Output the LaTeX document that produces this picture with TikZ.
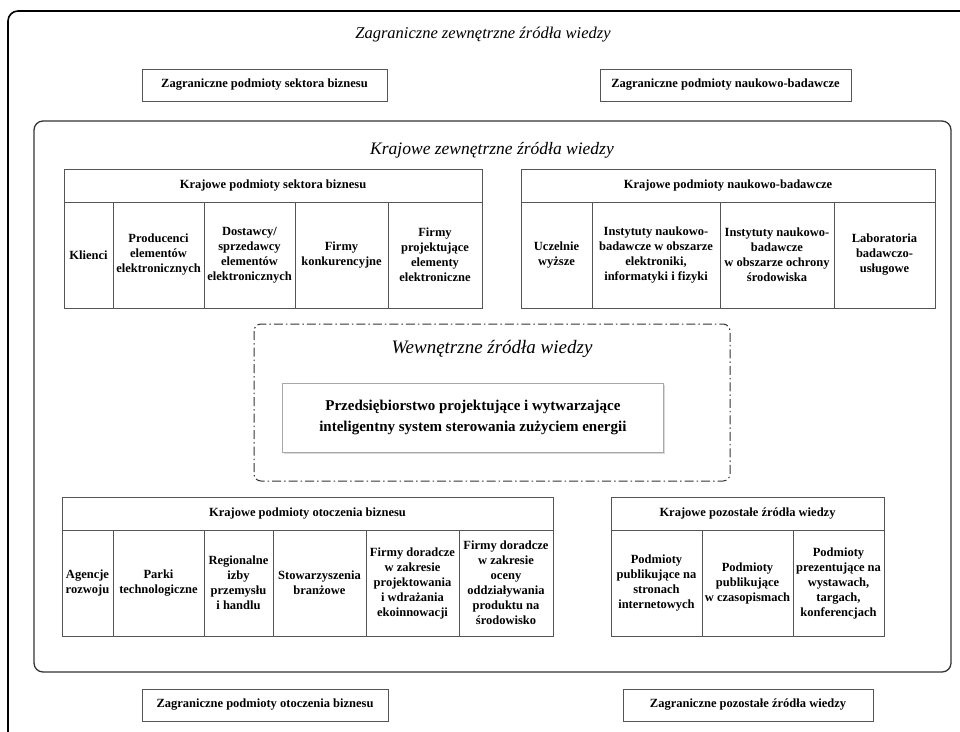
\documentclass[tikz,border=0pt]{standalone}
\usepackage{fontspec}
\setmainfont{Liberation Serif}
\usetikzlibrary{positioning,shadows}
\definecolor{framegray}{HTML}{333333}
\definecolor{cellgray}{HTML}{555555}
\definecolor{softgray}{HTML}{A8A8A8}

\begin{document}
\begin{tikzpicture}[x=1pt, y=-1pt,
  cell/.style={rectangle, draw=cellgray, line width=0.8pt, outer sep=0pt, inner sep=1pt, align=center, minimum height=106, font=\bfseries\fontsize{12.5}{15}\selectfont},
  headcell/.style={cell, minimum height=33},
  srcbox/.style={rectangle, draw=cellgray, line width=0.8pt, outer sep=0pt, anchor=north west, minimum height=32, align=center, font=\bfseries\fontsize{12.5}{15}\selectfont},
  titletext/.style={font=\itshape\fontsize{17.5}{20}\selectfont},
  outerframe/.style={draw=black, line width=1.6pt, rounded corners=10pt},
  innerframe/.style={draw=framegray, line width=1.3pt, rounded corners=9pt},
  dashframe/.style={draw=framegray, line width=1pt, rounded corners=7pt, dash pattern=on 9pt off 3pt on 1.5pt off 3pt},
  firmbox/.style={rectangle, draw=softgray, fill=white, line width=0.8pt, anchor=north west, drop shadow={shadow xshift=1.5pt, shadow yshift=-1.5pt, opacity=.3, fill=gray}, align=center, minimum width=381, minimum height=69, font=\bfseries\fontsize{15}{21}\selectfont}
]
\clip (0,0) rectangle (960,731);

% frames
\draw[outerframe] (8,11) rectangle (985,760);
\draw[innerframe] (34,121) rectangle (951,672);
\draw[dashframe] (254,324) rectangle (730,481);

% foreign sources
\node[titletext, font=\itshape\fontsize{16.5}{20}\selectfont] (zagTitle) at (483,35) {Zagraniczne zewnętrzne źródła wiedzy};
\node[srcbox, minimum width=245] (zagBiz) at (142,69) {Zagraniczne podmioty sektora biznesu};
\node[srcbox, minimum width=251] (zagNauk) at (600,69) {Zagraniczne podmioty naukowo-badawcze};
\node[srcbox, minimum width=246] (zagOtocz) at (142,689) {Zagraniczne podmioty otoczenia biznesu};
\node[srcbox, minimum width=250] (zagPoz) at (623,689) {Zagraniczne pozostałe źródła wiedzy};

% domestic sources
\node[titletext] (krajTitle) at (492,150) {Krajowe zewnętrzne źródła wiedzy};

\node[headcell, minimum width=418, anchor=north west] (kbHead) at (64,169) {Krajowe podmioty sektora biznesu};
\node[cell, minimum width=49, anchor=north west] (kb1) at (kbHead.south west) {Klienci};
\node[cell, minimum width=91, right=0pt of kb1] (kb2) {Producenci\\elementów\\elektronicznych};
\node[cell, minimum width=91, right=0pt of kb2] (kb3) {Dostawcy/\\sprzedawcy\\elementów\\elektronicznych};
\node[cell, minimum width=93, right=0pt of kb3] (kb4) {Firmy\\konkurencyjne};
\node[cell, minimum width=94, right=0pt of kb4] (kb5) {Firmy\\projektujące\\elementy\\elektroniczne};

\node[headcell, minimum width=414, anchor=north west] (knHead) at (521,169) {Krajowe podmioty naukowo-badawcze};
\node[cell, minimum width=71, anchor=north west] (kn1) at (knHead.south west) {Uczelnie\\wyższe};
\node[cell, minimum width=128, right=0pt of kn1] (kn2) {Instytuty naukowo-\\badawcze w obszarze\\elektroniki,\\informatyki i fizyki};
\node[cell, minimum width=114, right=0pt of kn2] (kn3) {Instytuty naukowo-\\badawcze\\w obszarze ochrony\\środowiska};
\node[cell, minimum width=101, right=0pt of kn3] (kn4) {Laboratoria\\badawczo-\\usługowe};

\node[headcell, minimum width=491, anchor=north west] (koHead) at (62,497) {Krajowe podmioty otoczenia biznesu};
\node[cell, minimum width=51, anchor=north west] (ko1) at (koHead.south west) {Agencje\\rozwoju};
\node[cell, minimum width=91, right=0pt of ko1] (ko2) {Parki\\technologiczne};
\node[cell, minimum width=69, right=0pt of ko2] (ko3) {Regionalne\\izby\\przemysłu\\i handlu};
\node[cell, minimum width=93, right=0pt of ko3] (ko4) {Stowarzyszenia\\branżowe};
\node[cell, minimum width=93, right=0pt of ko4] (ko5) {Firmy doradcze\\w zakresie\\projektowania\\i wdrażania\\ekoinnowacji};
\node[cell, minimum width=94, right=0pt of ko5] (ko6) {Firmy doradcze\\w zakresie\\oceny\\oddziaływania\\produktu na\\środowisko};

\node[headcell, minimum width=273, anchor=north west] (kpHead) at (611,497) {Krajowe pozostałe źródła wiedzy};
\node[cell, minimum width=91, anchor=north west] (kp1) at (kpHead.south west) {Podmioty\\publikujące na\\stronach\\internetowych};
\node[cell, minimum width=91, right=0pt of kp1] (kp2) {Podmioty\\publikujące\\w czasopismach};
\node[cell, minimum width=91, right=0pt of kp2] (kp3) {Podmioty\\prezentujące na\\wystawach,\\targach,\\konferencjach};

% internal sources
\node[titletext, font=\itshape\fontsize{19}{22}\selectfont] (wewTitle) at (492,349) {Wewnętrzne źródła wiedzy};
\node[firmbox] (firm) at (282,383) {Przedsiębiorstwo projektujące i wytwarzające\\inteligentny system sterowania zużyciem energii};
\end{tikzpicture}
\end{document}
